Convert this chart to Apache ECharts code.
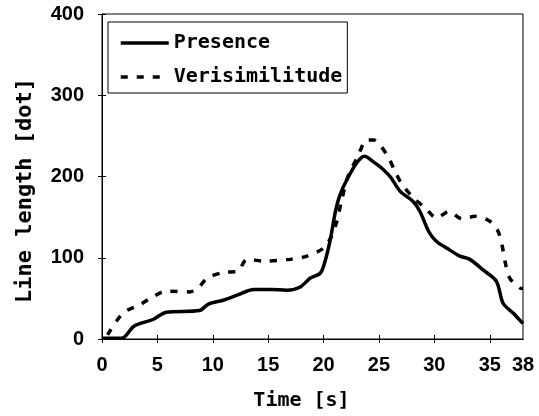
<!DOCTYPE html>
<html>
<head>
<meta charset="utf-8">
<script src="https://cdn.jsdelivr.net/npm/echarts@6/dist/echarts.min.js"></script>
<style>
html,body{margin:0;padding:0;background:#fff;}
#chart{width:539px;height:416px;}
</style>
</head>
<body>
<div id="chart"></div>
<script>
// Data
var seriesNames = ['Presence', 'Verisimilitude'];
var xTickLabels = [0, 5, 10, 15, 20, 25, 30, 35, 38];
var xTickMarks = [0, 5, 10, 15, 20, 25, 30, 35];
var yTickLabels = [0, 100, 200, 300, 400];

var presenceTime = [0, 1.8, 2.8, 3.4, 4.6, 5.8, 8.8, 9.6, 11.0, 12.2, 13.7, 15.2, 16.7, 17.9, 18.8, 19.7, 20.1, 20.6, 21.1, 21.5, 22.1, 23.0, 23.7, 24.5, 25.1, 26.0, 26.9, 28.1, 28.7, 29.5, 30.2, 31.1, 32.3, 33.2, 34.4, 35.6, 36.2, 37.1, 38.0];
var presenceLength = [1, 1, 15, 19, 24, 33, 35, 43, 48, 54, 61, 61, 60, 64, 75, 81, 94, 122, 159, 178, 196, 217, 225, 218, 212, 200, 182, 169, 157, 132, 120, 112, 102, 98, 85, 71, 44, 32, 19];

var verisTime = [0.5, 1.9, 3.4, 4.6, 5.8, 7.9, 8.7, 9.5, 11.0, 12.2, 13.1, 14.6, 17.0, 18.5, 20.0, 20.7, 21.2, 21.6, 22.2, 23.1, 23.9, 24.5, 25.7, 26.4, 27.0, 28.1, 29.2, 30.2, 31.3, 32.5, 33.7, 35.0, 35.7, 36.1, 36.4, 36.8, 37.7, 38.0];
var verisLength = [5, 32, 42, 52, 59, 58, 63, 75, 82, 83, 98, 96, 98, 102, 112, 126, 145, 169, 200, 225, 245, 245, 227, 208, 192, 174, 161, 149, 157, 148, 151, 145, 134, 116, 94, 75, 63, 62];

function pairs(xs, ys) {
  var out = [];
  for (var i = 0; i < xs.length; i++) out.push([xs[i], ys[i]]);
  return out;
}

var chart = echarts.init(document.getElementById('chart'), null, {renderer: 'canvas'});
var tickFont = {fontFamily: 'Liberation Sans', fontWeight: 'bold', fontSize: 20, color: '#000'};
var monoFont = 'DejaVu Sans Mono';

var option = {
  animation: false,
  backgroundColor: '#fff',
  grid: {left: 102, right: 16, top: 14, bottom: 77, show: true, borderColor: '#000', borderWidth: 1, backgroundColor: 'transparent'},
  legend: {
    orient: 'vertical', left: 108, top: 22,
    padding: [11, 5, 6, 11], itemGap: 14, itemWidth: 48, itemHeight: 20,
    borderColor: '#000', borderWidth: 1, borderRadius: 0,
    data: seriesNames,
    itemStyle: {opacity: 0, color: 'transparent', borderWidth: 0},
    lineStyle: {width: 3.5},
    textStyle: {fontFamily: monoFont, fontWeight: 'bold', fontSize: 20, color: '#000'}
  },
  xAxis: [{
    type: 'value', min: 0, max: 38, interval: 5,
    name: 'Time [s]', nameLocation: 'middle', nameGap: 52,
    nameTextStyle: {fontFamily: monoFont, fontWeight: 'bold', fontSize: 20, color: '#000', padding: [0, 22, 0, 0]},
    axisLine: {show: true, lineStyle: {color: '#000', width: 1}},
    axisTick: {show: true, inside: true, length: 4, customValues: xTickMarks, lineStyle: {color: '#000'}},
    axisLabel: Object.assign({margin: 16, customValues: xTickLabels}, tickFont),
    splitLine: {show: false}
  }, {
    type: 'value', min: 0, max: 38, interval: 5, position: 'top',
    axisLine: {show: true, lineStyle: {color: '#000', width: 1}},
    axisTick: {show: true, inside: true, length: 4, customValues: xTickMarks, lineStyle: {color: '#000'}},
    axisLabel: {show: false}, splitLine: {show: false}
  }],
  yAxis: [{
    type: 'value', min: 0, max: 400, interval: 100,
    name: 'Line length [dot]', nameLocation: 'middle', nameGap: 66, nameRotate: 90,
    nameTextStyle: {fontFamily: monoFont, fontWeight: 'bold', fontSize: 22, color: '#000', padding: [0, 28, 0, 0]},
    axisLine: {show: true, lineStyle: {color: '#000', width: 1}},
    axisTick: {show: true, inside: true, length: 4, lineStyle: {color: '#000'}},
    axisLabel: Object.assign({margin: 18, customValues: yTickLabels}, tickFont),
    splitLine: {show: false}
  }, {
    type: 'value', min: 0, max: 400, interval: 100, position: 'right',
    axisLine: {show: true, lineStyle: {color: '#000', width: 1}},
    axisTick: {show: true, inside: true, length: 4, lineStyle: {color: '#000'}},
    axisLabel: {show: false}, splitLine: {show: false}
  }],
  series: [{
    name: seriesNames[0], type: 'line', data: pairs(presenceTime, presenceLength),
    symbol: 'none', smooth: 0.3, color: '#000',
    lineStyle: {color: '#000', width: 3.5, type: 'solid'}
  }, {
    name: seriesNames[1], type: 'line', data: pairs(verisTime, verisLength),
    symbol: 'none', smooth: 0.3, color: '#000',
    lineStyle: {color: '#000', width: 3.5, type: [7, 9]}
  }]
};
chart.setOption(option);
</script>
</body>
</html>
